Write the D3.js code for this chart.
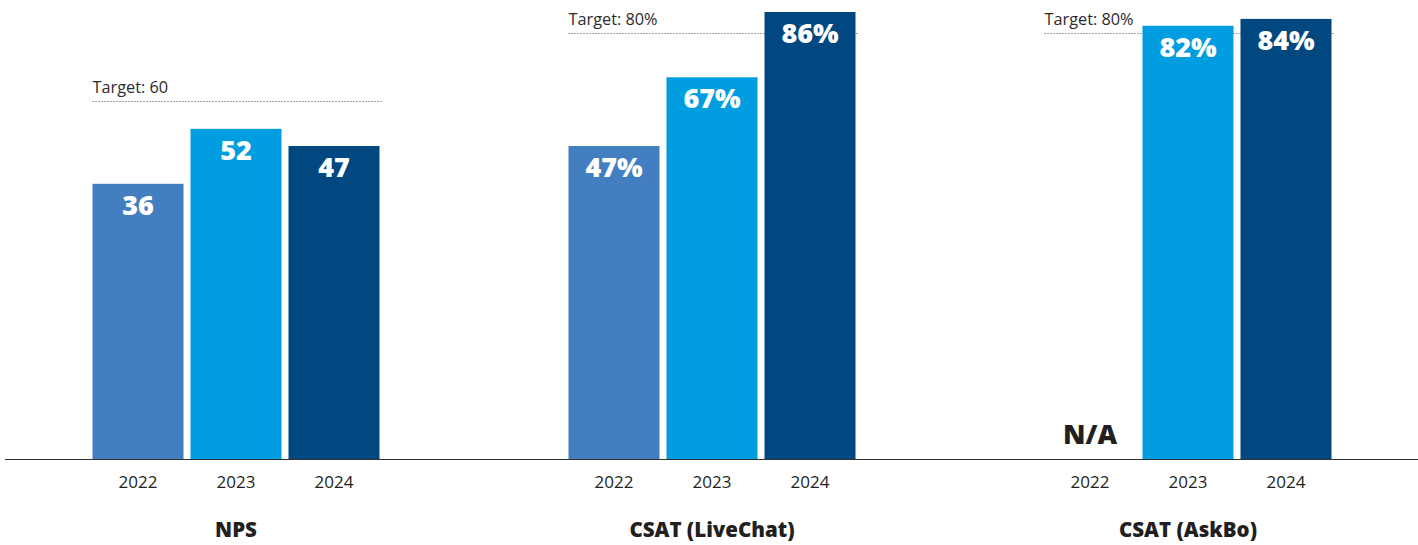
<!DOCTYPE html>
<html>
<head>
<meta charset="utf-8">
<script src="https://cdn.jsdelivr.net/npm/d3@7"></script>
<style>
  body { margin: 0; background: #fff; }
  text { font-family: "Open Sans", "Noto Sans", sans-serif; }
</style>
</head>
<body>
<div id="chart"></div>
<script>
// data
var categories = ["NPS", "CSAT (LiveChat)", "CSAT (AskBo)"];
var years = ["2022", "2023", "2024"];
var values2022 = [36, 47, null];
var values2023 = [52, 67, 82];
var values2024 = [47, 86, 84];
var suffixes = ["", "%", "%"];
var targets = [60, 80, 80];
var targetLabels = ["Target: 60", "Target: 80%", "Target: 80%"];

var colors = { "2022": "#437ec0", "2023": "#009de0", "2024": "#00487f" };

var width = 1418, height = 545, baseY = 459;

var rows = [];
categories.forEach(function (c, i) {
    rows.push({ cat: c, year: "2022", value: values2022[i], suffix: suffixes[i] });
    rows.push({ cat: c, year: "2023", value: values2023[i], suffix: suffixes[i] });
    rows.push({ cat: c, year: "2024", value: values2024[i], suffix: suffixes[i] });
});

var svg = d3.select("#chart").append("svg")
    .attr("width", width)
    .attr("height", height);

// outer bands for the three metrics
var x0 = d3.scaleBand()
    .domain(categories)
    .range([-2, 1426])
    .paddingInner(189 / 476)
    .paddingOuter(189 / 476 / 2);

// bars inside each group
var x1 = d3.scaleBand()
    .domain(years)
    .range([0, x0.bandwidth()])
    .paddingInner(7 / 98);

var y = d3.scaleLinear()
    .domain([-44.1, 89.5])
    .range([baseY, 0]);

// target lines (behind bars)
var tg = svg.selectAll(".target")
    .data(categories)
    .enter().append("g")
    .attr("class", "target");

tg.append("line")
    .attr("x1", function (d) { return x0(d); })
    .attr("x2", function (d) { return x0(d) + x0.bandwidth() + 2; })
    .attr("y1", function (d, i) { return Math.round(y(targets[i])) + 0.5; })
    .attr("y2", function (d, i) { return Math.round(y(targets[i])) + 0.5; })
    .attr("stroke", "#444")
    .attr("stroke-width", 1)
    .attr("stroke-dasharray", "1,2");

tg.append("text")
    .attr("x", function (d) { return x0(d); })
    .attr("y", function (d, i) { return y(targets[i]) - 8; })
    .attr("font-size", 16.3)
    .attr("fill", "#2b2b2b")
    .text(function (d, i) { return targetLabels[i]; });

var bars = svg.selectAll(".bar")
    .data(rows)
    .enter().append("g")
    .attr("class", "bar")
    .attr("transform", function (d) { return "translate(" + x0(d.cat) + ",0)"; });

bars.filter(function (d) { return d.value != null; })
    .append("rect")
    .attr("x", function (d) { return x1(d.year); })
    .attr("y", function (d) { return y(d.value); })
    .attr("width", x1.bandwidth())
    .attr("height", function (d) { return baseY - y(d.value); })
    .attr("fill", function (d) { return colors[d.year]; });

// value labels inside the top of each bar
bars.append("text")
    .attr("x", function (d) { return x1(d.year) + x1.bandwidth() / 2; })
    .attr("y", function (d) { return d.value != null ? y(d.value) + 31 : baseY - 15; })
    .attr("text-anchor", "middle")
    .attr("font-size", 27)
    .attr("font-weight", 800)
    .attr("fill", function (d) { return d.value != null ? "#fff" : "#231f20"; })
    .text(function (d) { return d.value != null ? d.value + d.suffix : "N/A"; });

// baseline
svg.append("line")
    .attr("x1", 5)
    .attr("x2", width)
    .attr("y1", baseY + 0.5)
    .attr("y2", baseY + 0.5)
    .attr("stroke", "#333")
    .attr("stroke-width", 1);

// year ticks
bars.append("text")
    .attr("x", function (d) { return x1(d.year) + x1.bandwidth() / 2; })
    .attr("y", 488)
    .attr("text-anchor", "middle")
    .attr("font-size", 17)
    .attr("fill", "#231f20")
    .text(function (d) { return d.year; });

// group titles
svg.selectAll(".cat")
    .data(categories)
    .enter().append("text")
    .attr("class", "cat")
    .attr("x", function (d) { return x0(d) + x0.bandwidth() / 2; })
    .attr("y", 537)
    .attr("text-anchor", "middle")
    .attr("font-size", 20.5)
    .attr("font-weight", 800)
    .attr("fill", "#231f20")
    .text(function (d) { return d; });
</script>
</body>
</html>
